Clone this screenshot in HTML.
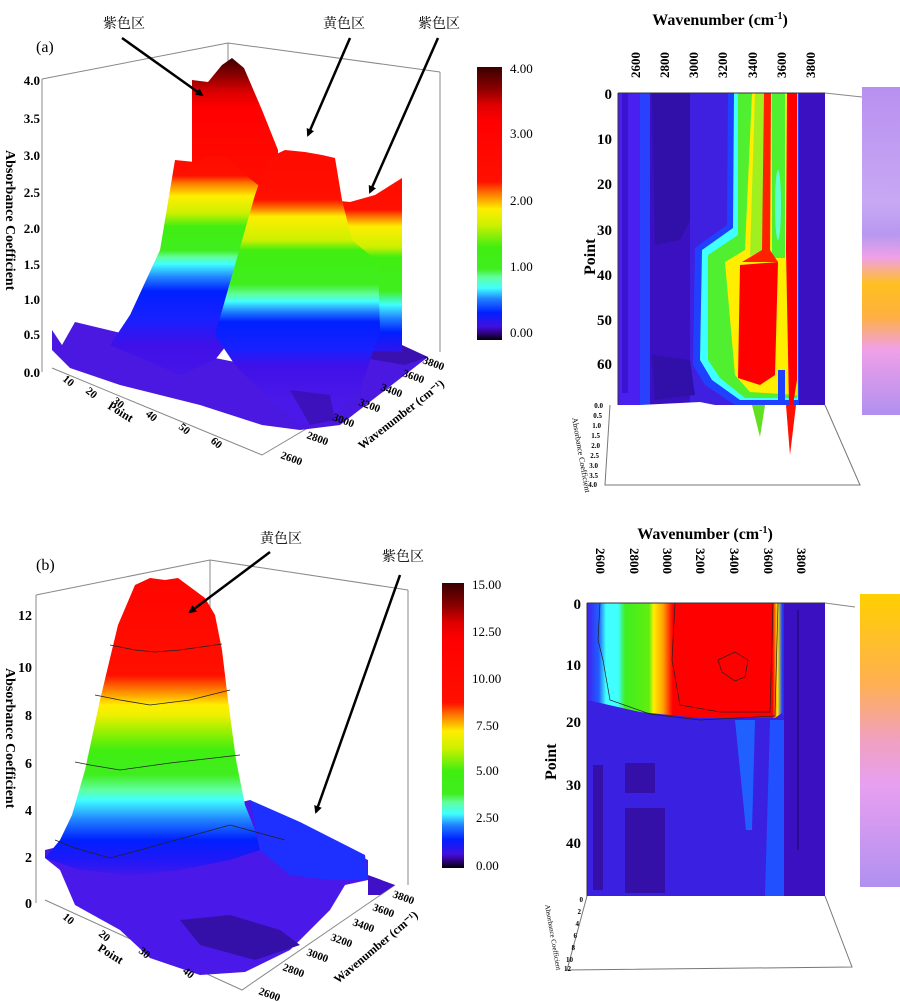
<!DOCTYPE html>
<html><head><meta charset="utf-8"><style>
body{margin:0;background:#fff}
svg{display:block;font-family:"Liberation Serif","Noto Serif CJK SC",serif}
.b{font-weight:bold}
</style></head><body>
<svg width="900" height="1002" viewBox="0 0 900 1002">
<defs>
<linearGradient id="cb" x1="0" y1="0" x2="0" y2="1">
<stop offset="0" stop-color="#3a0000"/><stop offset="0.08" stop-color="#8a0000"/><stop offset="0.14" stop-color="#e00000"/><stop offset="0.2" stop-color="#ff0000"/><stop offset="0.42" stop-color="#ff1000"/><stop offset="0.46" stop-color="#ff7000"/><stop offset="0.52" stop-color="#ffee00"/><stop offset="0.58" stop-color="#ccf000"/><stop offset="0.66" stop-color="#40ee10"/><stop offset="0.74" stop-color="#40ee20"/><stop offset="0.77" stop-color="#60ffa0"/><stop offset="0.81" stop-color="#40ffff"/><stop offset="0.85" stop-color="#2080ff"/><stop offset="0.9" stop-color="#0020ff"/><stop offset="0.95" stop-color="#4010e0"/><stop offset="0.975" stop-color="#300080"/><stop offset="1" stop-color="#000"/>
</linearGradient>
<linearGradient id="wall" gradientUnits="userSpaceOnUse" x1="0" y1="58" x2="0" y2="200">
<stop offset="0" stop-color="#3a0000"/><stop offset="0.12" stop-color="#8a0000"/><stop offset="0.25" stop-color="#e00000"/><stop offset="0.35" stop-color="#ff0000"/><stop offset="1" stop-color="#ff1000"/>
</linearGradient>
<linearGradient id="r1" gradientUnits="userSpaceOnUse" x1="0" y1="60" x2="0" y2="400">
<stop offset="0" stop-color="#ff0000"/><stop offset="0.34" stop-color="#ff1000"/><stop offset="0.36" stop-color="#ff7000"/><stop offset="0.40" stop-color="#ffee00"/><stop offset="0.45" stop-color="#ccf000"/><stop offset="0.49" stop-color="#40ee10"/><stop offset="0.56" stop-color="#40ee20"/><stop offset="0.58" stop-color="#60ffa0"/><stop offset="0.60" stop-color="#40ffff"/><stop offset="0.64" stop-color="#2080ff"/><stop offset="0.68" stop-color="#0020ff"/><stop offset="0.76" stop-color="#1820ff"/><stop offset="0.84" stop-color="#4010e8"/><stop offset="1" stop-color="#4a18e8"/>
</linearGradient>
<linearGradient id="r2" gradientUnits="userSpaceOnUse" x1="0" y1="60" x2="0" y2="400">
<stop offset="0" stop-color="#ff0000"/><stop offset="0.41" stop-color="#ff1000"/><stop offset="0.435" stop-color="#ff7000"/><stop offset="0.46" stop-color="#ffee00"/><stop offset="0.53" stop-color="#ccf000"/><stop offset="0.56" stop-color="#40ee10"/><stop offset="0.66" stop-color="#40ee20"/><stop offset="0.69" stop-color="#60ffa0"/><stop offset="0.71" stop-color="#40ffff"/><stop offset="0.74" stop-color="#2080ff"/><stop offset="0.77" stop-color="#0020ff"/><stop offset="0.85" stop-color="#1820ff"/><stop offset="0.9" stop-color="#4010e8"/><stop offset="1" stop-color="#4a18e8"/>
</linearGradient>
<linearGradient id="r3" gradientUnits="userSpaceOnUse" x1="0" y1="60" x2="0" y2="400">
<stop offset="0" stop-color="#ff0000"/><stop offset="0.44" stop-color="#ff1000"/><stop offset="0.46" stop-color="#ff7000"/><stop offset="0.49" stop-color="#ffee00"/><stop offset="0.55" stop-color="#ccf000"/><stop offset="0.58" stop-color="#40ee10"/><stop offset="0.68" stop-color="#40ee20"/><stop offset="0.72" stop-color="#40ffff"/><stop offset="0.76" stop-color="#2080ff"/><stop offset="0.8" stop-color="#0020ff"/><stop offset="0.88" stop-color="#4010e8"/><stop offset="1" stop-color="#4a18e8"/>
</linearGradient>
<linearGradient id="sb" gradientUnits="userSpaceOnUse" x1="0" y1="543" x2="0" y2="903">
<stop offset="0" stop-color="#ff0000"/><stop offset="0.367" stop-color="#ff1000"/><stop offset="0.403" stop-color="#ff7000"/><stop offset="0.45" stop-color="#ffee00"/><stop offset="0.478" stop-color="#eef000"/><stop offset="0.52" stop-color="#a0f000"/><stop offset="0.575" stop-color="#40ee10"/><stop offset="0.644" stop-color="#40ee20"/><stop offset="0.686" stop-color="#60ffa0"/><stop offset="0.714" stop-color="#40ffff"/><stop offset="0.77" stop-color="#2080ff"/><stop offset="0.825" stop-color="#0020ff"/><stop offset="0.88" stop-color="#2018f8"/><stop offset="0.936" stop-color="#4a18e8"/><stop offset="1" stop-color="#4a18e8"/>
</linearGradient>
<linearGradient id="hb" x1="0" y1="0" x2="1" y2="0">
<stop offset="0" stop-color="#4020f0"/><stop offset="0.05" stop-color="#2060ff"/><stop offset="0.08" stop-color="#40ffff"/><stop offset="0.13" stop-color="#40ffff"/><stop offset="0.16" stop-color="#40ee20"/><stop offset="0.26" stop-color="#60ee10"/><stop offset="0.28" stop-color="#ffee00"/><stop offset="0.32" stop-color="#ffa000"/><stop offset="0.36" stop-color="#ff0000"/><stop offset="0.78" stop-color="#ff0000"/><stop offset="0.8" stop-color="#ffee00"/><stop offset="0.82" stop-color="#2040ff"/><stop offset="0.835" stop-color="#3a10c0"/><stop offset="1" stop-color="#3a10c0"/>
</linearGradient>
<linearGradient id="stra" x1="0" y1="0" x2="0" y2="1">
<stop offset="0" stop-color="#b890f0"/><stop offset="0.35" stop-color="#c8a8f4"/><stop offset="0.45" stop-color="#b898f0"/><stop offset="0.52" stop-color="#f0a0e8"/><stop offset="0.6" stop-color="#ffc020"/><stop offset="0.7" stop-color="#ffb040"/><stop offset="0.8" stop-color="#f0a0e8"/><stop offset="1" stop-color="#b090f0"/>
</linearGradient>
<linearGradient id="strb" x1="0" y1="0" x2="0" y2="1">
<stop offset="0" stop-color="#ffd000"/><stop offset="0.3" stop-color="#ffb050"/><stop offset="0.5" stop-color="#f0a0c0"/><stop offset="0.65" stop-color="#e8a0f0"/><stop offset="1" stop-color="#b090f0"/>
</linearGradient>
<marker id="ar" markerWidth="8" markerHeight="8" refX="6" refY="4" orient="auto" markerUnits="userSpaceOnUse"><path d="M0,0 L8,4 L0,8 Z" fill="#000"/></marker>
</defs>

<!-- ===== Panel (a) left ===== -->
<g stroke="#888" stroke-width="1" fill="none">
<polyline points="42,79 228,43 440,72"/>
<line x1="228" y1="43" x2="228" y2="300"/>
<line x1="440" y1="72" x2="440" y2="352"/>
<line x1="42" y1="79" x2="42" y2="372"/>
<polyline points="52,368 262,455 428,357"/>
</g>
<polygon points="52,330 62,345 75,322 100,328 150,340 200,355 250,365 300,372 402,350 428,357 340,425 300,430 262,425 200,405 120,385 70,368 52,350" fill="#4a18e0"/>
<polygon points="330,352 402,345 428,357 405,365" fill="#3a10b0"/>
<polygon points="192,80 208,82 222,65 232,58 244,68 262,110 278,150 278,200 192,200" fill="url(#wall)"/>
<polygon points="330,200 350,202 375,195 402,178 402,352 350,350" fill="url(#r3)"/>
<polygon points="175,160 195,162 212,155 228,158 245,175 262,188 262,300 215,360 180,375 110,345 130,315 160,250" fill="url(#r1)"/>
<polygon points="255,195 268,158 285,150 305,152 322,155 335,158 342,200 352,240 378,262 380,330 360,390 330,420 300,425 270,400 235,365 215,335 235,265" fill="url(#r2)"/>
<polygon points="290,390 330,395 335,420 310,425" fill="#3a10b0" opacity="0.8"/>
<g font-size="13" class="b" text-anchor="end">
<text x="40" y="85">4.0</text><text x="40" y="123">3.5</text><text x="40" y="160">3.0</text><text x="40" y="197">2.5</text><text x="40" y="233">2.0</text><text x="40" y="269">1.5</text><text x="40" y="304">1.0</text><text x="40" y="339">0.5</text><text x="40" y="377">0.0</text>
</g>
<text transform="translate(6,150) rotate(90)" font-size="14" class="b">Absorbance Coefficient</text>
<g font-size="11" class="b">
<text transform="translate(62,380) rotate(40)">10</text><text transform="translate(85,392) rotate(40)">20</text><text transform="translate(112,402) rotate(40)">30</text><text transform="translate(145,415) rotate(40)">40</text><text transform="translate(178,428) rotate(40)">50</text><text transform="translate(210,442) rotate(40)">60</text>
<text transform="translate(107,408) rotate(32)" font-size="12">Point</text>
<text transform="translate(280,458) rotate(20)">2600</text><text transform="translate(306,438) rotate(20)">2800</text><text transform="translate(332,420) rotate(20)">3000</text><text transform="translate(358,405) rotate(20)">3200</text><text transform="translate(380,390) rotate(20)">3400</text><text transform="translate(402,376) rotate(20)">3600</text><text transform="translate(422,363) rotate(20)">3800</text>
<text transform="translate(362,450) rotate(-38)" font-size="12">Wavenumber (cm⁻¹)</text>
</g>
<text x="36" y="52" font-size="16">(a)</text>
<g font-size="14"><text x="103" y="28">紫色区</text><text x="323" y="28">黄色区</text><text x="418" y="28">紫色区</text></g>
<g stroke="#000" stroke-width="2.5" marker-end="url(#ar)">
<line x1="122" y1="38" x2="202" y2="95"/><line x1="350" y1="38" x2="308" y2="135"/><line x1="438" y1="38" x2="370" y2="192"/>
</g>
<rect x="477" y="67" width="25" height="273" fill="url(#cb)"/>
<g font-size="13"><text x="510" y="73">4.00</text><text x="510" y="138">3.00</text><text x="510" y="205">2.00</text><text x="510" y="271">1.00</text><text x="510" y="337">0.00</text></g>

<!-- ===== Panel (a) right ===== -->
<text x="720" y="25" text-anchor="middle" font-size="16" class="b">Wavenumber (cm<tspan font-size="10" dy="-6">-1</tspan><tspan dy="6">)</tspan></text>
<g font-size="13" class="b">
<text transform="translate(640,78) rotate(-90)">2600</text><text transform="translate(669,78) rotate(-90)">2800</text><text transform="translate(698,78) rotate(-90)">3000</text><text transform="translate(727,78) rotate(-90)">3200</text><text transform="translate(757,78) rotate(-90)">3400</text><text transform="translate(786,78) rotate(-90)">3600</text><text transform="translate(815,78) rotate(-90)">3800</text>
</g>
<rect x="618" y="93" width="207" height="312" fill="#3a10c0"/>
<rect x="618" y="93" width="32" height="312" fill="#4a20f0"/>
<rect x="640" y="93" width="10" height="312" fill="#2a40ff"/>
<rect x="622" y="93" width="6" height="300" fill="#3a14d0"/>
<rect x="690" y="93" width="45" height="312" fill="#4020e0"/>
<polygon points="652,93 690,93 690,220 680,240 655,245" fill="#3010a8"/>
<polygon points="652,355 690,360 695,395 655,400" fill="#3010a8"/>
<polygon points="728,93 799,93 799,405 735,405 705,385 693,365 695,248 727,225" fill="#2040ff"/>
<polygon points="734,93 798,93 798,400 740,400 712,380 700,360 702,250 733,228" fill="#40ffff"/>
<polygon points="738,93 797,93 797,398 745,398 720,378 708,360 708,255 738,235" fill="#50f030"/>
<polygon points="752,93 797,93 797,395 750,392 735,375 725,262 745,250" fill="#ffee00"/>
<polygon points="755,93 764,93 764,250 750,256" fill="#a0f020"/>
<rect x="772" y="93" width="13" height="165" fill="#50f030"/>
<ellipse cx="778" cy="205" rx="3" ry="35" fill="#60ffd0"/>
<polygon points="764,93 771,93 770,250 778,262 742,262 762,250" fill="#ff2000"/>
<polygon points="740,265 778,262 775,375 760,385 738,378" fill="#ff0000"/>
<polygon points="787,93 797,93 797,380 793,405 789,405 786,250" fill="#ff0000"/>
<polygon points="778,370 785,370 785,405 778,405" fill="#2040ff"/>
<line x1="618" y1="93" x2="825" y2="93" stroke="#333"/>
<line x1="618" y1="93" x2="618" y2="405" stroke="#333"/>
<polyline points="825,93 862,97" stroke="#888" fill="none"/>
<polygon points="618,410 640,405 700,402 740,410 825,405 860,485 610,485" fill="#fff"/>
<polygon points="752,405 765,405 760,437" fill="#60e020"/>
<polygon points="786,405 796,405 790,455" fill="#ff1000"/>
<g stroke="#777" fill="none"><polyline points="610,405 605,485 860,485 825,405"/></g>
<g font-size="15" class="b" text-anchor="end">
<text x="612" y="99">0</text><text x="612" y="144">10</text><text x="612" y="189">20</text><text x="612" y="235">30</text><text x="612" y="280">40</text><text x="612" y="325">50</text><text x="612" y="369">60</text>
</g>
<text transform="translate(595,275) rotate(-90)" font-size="16" class="b">Point</text>
<g font-size="7" class="b" text-anchor="end"><text x="603" y="408">0.0</text><text x="602" y="418">0.5</text><text x="601" y="428">1.0</text><text x="600" y="438">1.5</text><text x="600" y="448">2.0</text><text x="599" y="458">2.5</text><text x="598" y="468">3.0</text><text x="598" y="478">3.5</text><text x="597" y="487">4.0</text></g>
<text transform="translate(572,418) rotate(80)" font-size="8">Absorbance Coefficient</text>
<rect x="862" y="87" width="38" height="328" fill="url(#stra)"/>

<!-- ===== Panel (b) left ===== -->
<g stroke="#888" fill="none">
<polyline points="36,595 210,560 408,590"/>
<line x1="210" y1="560" x2="210" y2="800"/>
<line x1="408" y1="590" x2="408" y2="885"/>
<line x1="36" y1="595" x2="36" y2="903"/>
<polyline points="45,900 242,990 395,885"/>
</g>
<polygon points="45,858 60,870 75,905 120,930 150,958 200,975 245,972 290,950 330,910 345,885 368,880 368,860 300,830 250,800 45,850" fill="#4a18e8"/>
<polygon points="368,875 395,885 380,895 368,895" fill="#4010c8"/>
<polygon points="180,920 230,915 280,930 300,945 255,960 200,945" fill="#3510a8"/>
<polygon points="250,800 300,822 365,855 368,880 330,880 290,875 260,850" fill="#1e30ff"/>
<polygon points="45,858 60,840 72,815 85,770 100,700 118,625 135,585 150,578 165,580 178,578 205,598 215,615 222,650 228,700 236,760 245,805 255,830 260,850 230,860 180,870 130,875 80,870" fill="url(#sb)"/>
<g stroke="#222" stroke-width="0.8" fill="none">
<polyline points="110,645 135,650 155,652 180,650 222,644"/>
<polyline points="95,695 120,700 150,705 190,700 230,690"/>
<polyline points="75,762 90,765 120,770 170,763 240,755"/>
<polyline points="55,840 75,848 110,858 140,850 230,825 285,840"/>
</g>
<g font-size="14" class="b" text-anchor="end">
<text x="32" y="620">12</text><text x="32" y="672">10</text><text x="32" y="720">8</text><text x="32" y="768">6</text><text x="32" y="815">4</text><text x="32" y="862">2</text><text x="32" y="908">0</text>
</g>
<text transform="translate(6,668) rotate(90)" font-size="14" class="b">Absorbance Coefficient</text>
<g font-size="11" class="b">
<text transform="translate(62,918) rotate(40)">10</text><text transform="translate(98,935) rotate(40)">20</text><text transform="translate(138,952) rotate(40)">30</text><text transform="translate(182,972) rotate(40)">40</text>
<text transform="translate(97,950) rotate(32)" font-size="12">Point</text>
<text transform="translate(258,994) rotate(20)">2600</text><text transform="translate(282,970) rotate(20)">2800</text><text transform="translate(306,955) rotate(20)">3000</text><text transform="translate(330,940) rotate(20)">3200</text><text transform="translate(352,925) rotate(20)">3400</text><text transform="translate(372,910) rotate(20)">3600</text><text transform="translate(392,897) rotate(20)">3800</text>
<text transform="translate(338,984) rotate(-40)" font-size="12">Wavenumber (cm⁻¹)</text>
</g>
<text x="36" y="570" font-size="16">(b)</text>
<g font-size="14"><text x="260" y="543">黄色区</text><text x="382" y="561">紫色区</text></g>
<g stroke="#000" stroke-width="2.5" marker-end="url(#ar)">
<line x1="270" y1="552" x2="190" y2="612"/><line x1="400" y1="575" x2="316" y2="812"/>
</g>
<rect x="442" y="583" width="22" height="285" fill="url(#cb)"/>
<g font-size="13"><text x="472" y="589">15.00</text><text x="472" y="636">12.50</text><text x="472" y="683">10.00</text><text x="476" y="730">7.50</text><text x="476" y="775">5.00</text><text x="476" y="822">2.50</text><text x="476" y="870">0.00</text></g>

<!-- ===== Panel (b) right ===== -->
<text x="705" y="539" text-anchor="middle" font-size="16" class="b">Wavenumber (cm<tspan font-size="10" dy="-6">-1</tspan><tspan dy="6">)</tspan></text>
<g font-size="13" class="b">
<text transform="translate(596,548) rotate(90)">2600</text><text transform="translate(630,548) rotate(90)">2800</text><text transform="translate(663,548) rotate(90)">3000</text><text transform="translate(696,548) rotate(90)">3200</text><text transform="translate(730,548) rotate(90)">3400</text><text transform="translate(764,548) rotate(90)">3600</text><text transform="translate(797,548) rotate(90)">3800</text>
</g>
<rect x="587" y="603" width="238" height="120" fill="url(#hb)"/>
<polygon points="587,723 587,700 640,712 700,718 775,718 782,713 785,723 825,723 825,896 587,896" fill="#3a20e0"/>
<rect x="784" y="603" width="41" height="293" fill="#3a10c0"/>
<line x1="798" y1="610" x2="798" y2="850" stroke="#1a0860"/>
<polygon points="735,720 755,720 752,830 746,830" fill="#2060ff"/>
<polygon points="770,720 784,720 784,896 765,896" fill="#2050ff"/>
<g fill="#3510a8"><rect x="625" y="763" width="30" height="30"/><rect x="625" y="808" width="40" height="85"/><rect x="593" y="765" width="10" height="125"/></g>
<g stroke="#222" stroke-width="0.7" fill="none">
<polyline points="600,603 598,640 603,660 610,700 650,714 700,720 775,716 778,603"/>
<polyline points="675,603 672,660 680,705 720,712 770,712 773,603"/>
<polygon points="718,660 735,652 748,660 745,677 735,681 722,672"/>
</g>
<line x1="587" y1="603" x2="825" y2="603" stroke="#333"/>
<line x1="587" y1="603" x2="587" y2="896" stroke="#333"/>
<polyline points="825,603 855,607" stroke="#888" fill="none"/>
<g stroke="#777" fill="none"><polyline points="587,896 567,970 852,967 825,896"/></g>
<g font-size="15" class="b" text-anchor="end">
<text x="581" y="609">0</text><text x="581" y="670">10</text><text x="581" y="727">20</text><text x="581" y="790">30</text><text x="581" y="848">40</text>
</g>
<text transform="translate(556,780) rotate(-90)" font-size="16" class="b">Point</text>
<g font-size="7" class="b" text-anchor="end"><text x="583" y="902">0</text><text x="581" y="914">2</text><text x="579" y="926">4</text><text x="577" y="938">6</text><text x="575" y="950">8</text><text x="573" y="962">10</text><text x="571" y="971">12</text></g>
<text transform="translate(545,905) rotate(80)" font-size="7">Absorbance Coefficient</text>
<rect x="860" y="594" width="40" height="293" fill="url(#strb)"/>
</svg>
</body></html>
